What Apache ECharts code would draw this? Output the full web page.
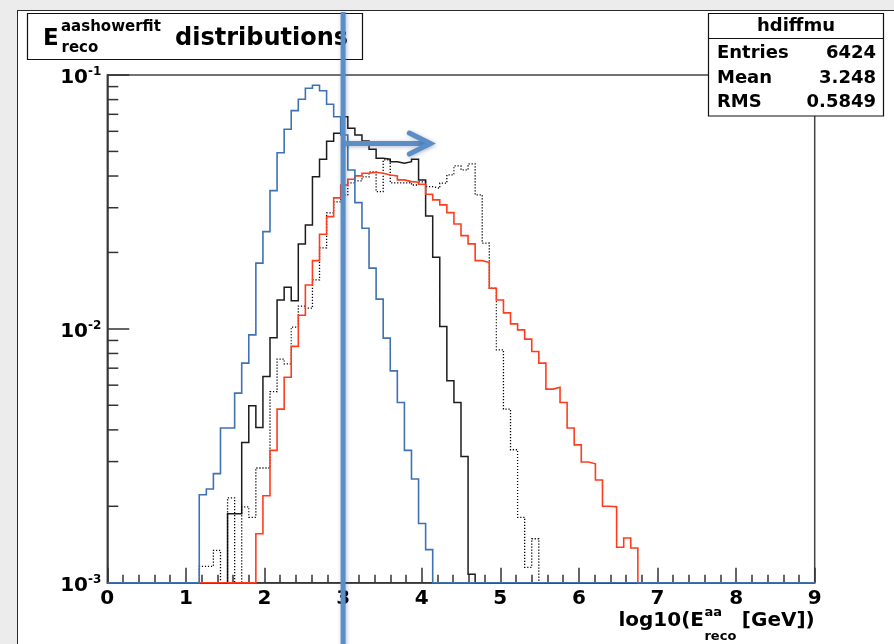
<!DOCTYPE html>
<html>
<head>
<meta charset="utf-8">
<script src="https://cdn.jsdelivr.net/npm/echarts@6/dist/echarts.min.js"></script>
<style>
html,body{margin:0;padding:0;width:894px;height:644px;overflow:hidden;background:#ececec;}
#frame{position:absolute;left:17px;top:10px;width:900px;height:700px;background:#fff;border:1.5px solid #2a2a2a;}
#chart{position:absolute;left:0;top:0;width:894px;height:644px;}
</style>
</head>
<body>
<div id="frame"></div>
<div id="chart"></div>
<script>
// ---- histogram binning (TH1 with 100 bins on [0, 9]) ----
const xMin = 0, xMax = 9, nBins = 100;
const yMin = 0.001, yMax = 0.1;

// ---- series values (normalised bin contents), first bin index given separately ----
const blueStart = 13;
const blueValues = [0.00222,0.00234,0.00269,0.00407,0.00407,0.00558,0.00733,0.00947,0.01815,0.02416,
  0.03503,0.04943,0.06111,0.07236,0.08022,0.08863,0.09109,0.08674,0.07665,0.06852,
  0.0580,0.04227,0.03142,0.02491,0.01734,0.01309,0.00919,0.00683,0.00513,0.00332,
  0.00256,0.00171,0.00135];

const blackStart = 17;
const blackValues = [0.00187,0.00187,0.00357,0.00498,0.00409,0.00649,0.00922,0.01300,0.01459,0.01289,
  0.02161,0.02566,0.03978,0.04661,0.05483,0.05896,0.06852,0.06166,0.05803,0.05497,
  0.05099,0.04699,0.04657,0.04557,0.04491,0.04557,0.04657,0.03861,0.02786,0.01915,
  0.01021,0.00624,0.00513,0.00314,0.00108];

const redStart = 21;
const redValues = [0.00156,0.00220,0.00332,0.00483,0.00645,0.00853,0.01132,0.01489,0.01857,0.02360,
  0.02768,0.03280,0.03687,0.03886,0.04004,0.04102,0.04139,0.04102,0.04040,0.04004,
  0.03861,0.03802,0.03781,0.03713,0.03391,0.03221,0.03078,0.02870,0.02590,0.02330,
  0.02161,0.01857,0.01824,0.01446,0.01300,0.01156,0.01046,0.00991,0.00911,0.00814,
  0.00733,0.00579,0.00589,0.00513,0.00407,0.00349,0.00299,0.00294,0.00254,0.00200,
  0.00199,0.00138,0.00150,0.00137];

const dottedStart = 13;
const dottedValues = [0.00116,0.00116,0.00134,0,0.00216,0,0.00199,0.00181,0.00283,0.00283,
  0.00566,0.00760,0.00728,0.01016,0.01230,0.01206,0.01559,0.02084,0.02862,0.03162,
  0.03370,0.03757,0.03826,0.03967,0.04150,0.03472,0.04628,0.03757,0.03757,0.03767,
  0.03687,0.03791,0.03632,0.03580,0.03747,0.04040,0.04382,0.04227,0.04463,0.03370,
  0.02175,0.01446,0.00827,0.00483,0.00334,0.00181,0.00115,0.00149];

// ---- tick labels ----
const xTickLabels = ['0','1','2','3','4','5','6','7','8','9'];
const yTickValues = [0.001, 0.01, 0.1];
const yTickExponents = ['-3', '-2', '-1'];
const yMinorMantissas = [2,3,4,5,6,7,8,9];

// ---- texts ----
const titleBase = 'E', titleSup = 'aashowerfit', titleSub = 'reco', titleRest = 'distributions';
const xTitleMain = 'log10(E', xTitleSup = 'aa', xTitleSub = 'reco', xTitleEnd = '[GeV])';
const statsName = 'hdiffmu';
const statsLabels = ['Entries', 'Mean', 'RMS'];
const statsValues = ['6424', '3.248', '0.5849'];

// ---- annotation (cut line and arrow) in data units ----
const cutX = 3;
const arrowEndX = 4.11;
const arrowY = 0.0537;

const FONT = 'DejaVu Sans';

function histPoints(start, vals) {
  const w = (xMax - xMin) / nBins;
  const full = new Array(nBins).fill(0);
  vals.forEach((v, i) => { full[start + i] = v; });
  const pts = [];
  for (let k = 0; k < nBins; k++) {
    pts.push([xMin + k * w, full[k] > yMin ? full[k] : yMin]);
  }
  pts.push([xMax, pts[nBins - 1][1]]);
  return pts;
}

const yMinorTicks = [];
yTickValues.slice(0, -1).forEach(d => yMinorMantissas.forEach(m => yMinorTicks.push([xMin, m * d])));

function histSeries(name, start, vals, color, width, type) {
  return {
    name, type: 'line', step: 'end', data: histPoints(start, vals),
    symbol: 'none', showSymbol: false, clip: false, silent: true,
    lineStyle: { color, width, type: type || 'solid', cap: 'butt', join: 'miter' },
    z: 3
  };
}

const chart = echarts.init(document.getElementById('chart'), null, { renderer: 'canvas' });

const axisColor = '#333';
const option = {
  animation: false,
  textStyle: { fontFamily: FONT },
  grid: { left: 107.3, top: 75, width: 707.4, height: 507.7, show: true,
          borderColor: '#444', borderWidth: 1.5, backgroundColor: 'rgba(0,0,0,0)' },
  xAxis: {
    type: 'value', min: xMin, max: xMax, interval: 1,
    axisLine: { show: true, onZero: false, lineStyle: { color: axisColor, width: 1.5 } },
    axisTick: { show: true, inside: true, length: 15, lineStyle: { color: axisColor, width: 1.5 } },
    minorTick: { show: true, splitNumber: 5, length: 8, lineStyle: { color: axisColor, width: 1.5 } },
    splitLine: { show: false },
    axisLabel: { color: '#000', fontFamily: FONT, fontWeight: 'bold', fontSize: 20, margin: 6,
                 formatter: v => xTickLabels[Math.round(v)] }
  },
  yAxis: {
    type: 'log', logBase: 10, min: yMin, max: yMax,
    axisLine: { show: true, onZero: false, lineStyle: { color: axisColor, width: 1.5 } },
    axisTick: { show: true, inside: true, length: 22, lineStyle: { color: axisColor, width: 1.5 } },
    minorTick: { show: false },
    splitLine: { show: false },
    axisLabel: {
      margin: 6, padding: [6, 0, 0, 0],
      formatter: v => {
        let i = 0, best = 1e9;
        yTickValues.forEach((t, j) => { const d = Math.abs(Math.log10(t) - Math.log10(v)); if (d < best) { best = d; i = j; } });
        return '{b|10}{s|' + yTickExponents[i] + '}';
      },
      rich: {
        b: { fontFamily: FONT, fontWeight: 'bold', fontSize: 20, color: '#000', lineHeight: 24 },
        s: { fontFamily: FONT, fontWeight: 'bold', fontSize: 12, color: '#000', lineHeight: 14, verticalAlign: 'top' }
      }
    }
  },
  series: [
    histSeries('black', blackStart, blackValues, '#1c1c1c', 1.5),
    histSeries('dotted', dottedStart, dottedValues, '#000', 1.3, [1.2, 1.8]),
    histSeries('red', redStart, redValues, '#ff3d1e', 1.6),
    histSeries('blue', blueStart, blueValues, '#3f72b2', 1.6),
    {
      type: 'custom', silent: true, clip: false, z: 4,
      data: yMinorTicks,
      renderItem: (params, api) => {
        const p = api.coord([api.value(0), api.value(1)]);
        return { type: 'line', shape: { x1: p[0], y1: p[1], x2: p[0] + 11, y2: p[1] },
                 style: { stroke: axisColor, lineWidth: 1.5 } };
      }
    }
  ]
};
chart.setOption(option);

// ---- overlays: title box, stats box, axis title, cut line and arrow ----
const mctx = document.createElement('canvas').getContext('2d');
function tw(text, size) { mctx.font = 'bold ' + size + 'px "' + FONT + '"'; return mctx.measureText(text).width; }
function txt(text, x, y, size, align, z) {
  return { type: 'text', z: z || 110, silent: true,
    style: { text, x, y, font: 'bold ' + size + 'px "' + FONT + '"', fill: '#000',
             align: align || 'left', textAlign: align || 'left',
             verticalAlign: 'middle', textVerticalAlign: 'middle' } };
}

const els = [];
// title box
els.push({ type: 'rect', z: 100, silent: true, shape: { x: 27.5, y: 13.5, width: 335, height: 46 },
           style: { fill: '#fff', stroke: '#111', lineWidth: 1.2 } });
els.push(txt(titleBase, 43, 39.5, 23));
els.push(txt(titleSup, 61, 27.5, 15));
els.push(txt(titleSub, 61.5, 48, 15));
els.push(txt(titleRest, 175, 39, 24));

// stats box
els.push({ type: 'rect', z: 100, silent: true, shape: { x: 708.5, y: 13.5, width: 175, height: 102.5 },
           style: { fill: '#fff', stroke: '#111', lineWidth: 1.2 } });
els.push({ type: 'line', z: 101, silent: true, shape: { x1: 708.5, y1: 38.5, x2: 883.5, y2: 38.5 },
           style: { stroke: '#111', lineWidth: 1.2 } });
els.push(txt(statsName, 796, 26.5, 18, 'center'));
const rowY = [53, 78, 102.5];
statsLabels.forEach((l, i) => {
  els.push(txt(l, 717, rowY[i], 18, 'left'));
  els.push(txt(statsValues[i], 876, rowY[i], 18, 'right'));
});

// x axis title (right-aligned at the end of the axis)
const xEndPx = chart.convertToPixel({ xAxisIndex: 0 }, xMax);
const wEnd = tw(xTitleEnd, 20), wMain = tw(xTitleMain, 20);
const wMid = Math.max(tw(xTitleSup, 13), tw(xTitleSub, 13)) + 6;
const xEndStart = xEndPx - wEnd;
const xMidStart = xEndStart - wMid;
const xMainStart = xMidStart - wMain;
els.push(txt(xTitleMain, xMainStart, 621, 20));
els.push(txt(xTitleSup, xMidStart + 0.5, 612.5, 13));
els.push(txt(xTitleSub, xMidStart + 0.5, 636.5, 13));
els.push(txt(xTitleEnd, xEndStart, 621, 20));

// cut line and arrow
const cx = chart.convertToPixel({ xAxisIndex: 0 }, cutX);
const ax2 = chart.convertToPixel({ xAxisIndex: 0 }, arrowEndX);
const ay = chart.convertToPixel({ yAxisIndex: 0 }, arrowY);
const blueMark = '#5b8dc6';
const shadow = { shadowBlur: 4, shadowColor: 'rgba(40,70,120,0.35)', shadowOffsetX: 1, shadowOffsetY: 1 };
els.push({ type: 'line', z: 130, silent: true, shape: { x1: cx, y1: 12, x2: cx, y2: 660 },
           style: Object.assign({ stroke: blueMark, lineWidth: 5 }, shadow) });
els.push({ type: 'line', z: 131, silent: true, shape: { x1: cx, y1: ay, x2: ax2 - 2, y2: ay },
           style: Object.assign({ stroke: blueMark, lineWidth: 5 }, shadow) });
els.push({ type: 'polyline', z: 131, silent: true,
           shape: { points: [[ax2 - 21, ay - 10.5], [ax2, ay], [ax2 - 21, ay + 10.5]] },
           style: Object.assign({ stroke: blueMark, lineWidth: 5, fill: null, lineJoin: 'miter', lineCap: 'round' }, shadow) });

chart.setOption({ graphic: { elements: els } });
</script>
</body>
</html>
